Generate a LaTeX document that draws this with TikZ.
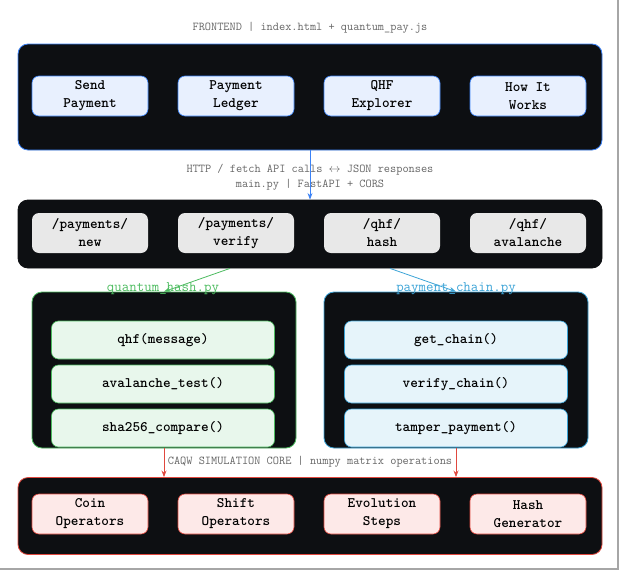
\documentclass[tikz,border=0pt]{standalone}
\usepackage{tikz}
\usetikzlibrary{shapes, arrows.meta}
\usetikzlibrary{positioning}
\definecolor{bgdark}{HTML}{0D0F12}
\definecolor{feblue}{HTML}{3B82F6}
\definecolor{fefill}{HTML}{E8F0FE}
\definecolor{apifill}{HTML}{E8E8E8}
\definecolor{qgreen}{HTML}{4CBB5F}
\definecolor{qfill}{HTML}{E8F7EC}
\definecolor{cblue}{HTML}{3BA3D6}
\definecolor{cfill}{HTML}{E6F4FA}
\definecolor{cred}{HTML}{E0483E}
\definecolor{rfill}{HTML}{FDE9E8}
\tikzstyle{layer} = [rectangle, rounded corners = 10, fill = bgdark,
  line width = 0.8pt, minimum width = 584, inner sep = 0]
\tikzstyle{item} = [
  rectangle, rounded corners = 7,
  minimum width = 116, minimum height = 40, line width = 0.6pt,
  text centered, align = center, inner sep = 1,
  font = \ttfamily\bfseries\fontsize{14.5}{18}\selectfont
]
\tikzstyle{fn} = [item, minimum width = 223, minimum height = 38]
\tikzstyle{caption} = [font = \ttfamily\fontsize{12}{14}\selectfont, text = black!60]
\tikzstyle{module} = [font = \ttfamily\fontsize{14.5}{16}\selectfont]
\begin{document}
\begin{tikzpicture}[x = 1pt, y = -1pt, node distance = 0]
      \useasboundingbox (0, 0) rectangle (621, 573);
      \draw [gray!70, line width = 1.5pt] (618, 0) -- (618, 569) -- (0, 569);
      % frontend
      \node [caption] (fe-title) at (310, 28) {FRONTEND | index.html + quantum\_pay.js};
      \node [layer, draw = feblue, minimum height = 106] (fe) at (310, 97) {};
      \node [item, draw = feblue, fill = fefill] (fe-send) at (90, 96) {Send\\Payment};
      \node [item, draw = feblue, fill = fefill] (fe-ledger) at (236, 96) {Payment\\Ledger};
      \node [item, draw = feblue, fill = fefill] (fe-qhf) at (382, 96) {QHF\\Explorer};
      \node [item, draw = feblue, fill = fefill] (fe-how) at (528, 96) {How It\\Works};
      % api
      \node [caption] (api-title-a) at (310, 170) {HTTP / fetch API calls $\leftrightarrow$ JSON responses};
      \node [caption] (api-title-b) at (310, 185) {main.py | FastAPI + CORS};
      \node [layer, draw = bgdark, minimum height = 68] (api) at (310, 234) {};
      \node [item, fill = apifill] (api-new) at (90, 233) {/payments/\\new};
      \node [item, fill = apifill] (api-verify) at (236, 233) {/payments/\\verify};
      \node [item, fill = apifill] (api-hash) at (382, 233) {/qhf/\\hash};
      \node [item, fill = apifill] (api-aval) at (528, 233) {/qhf/\\avalanche};
      % modules
      \node [layer, draw = qgreen, minimum width = 264, minimum height = 156] (qh) at (164, 370) {};
      \node [module, text = qgreen] (qh-title) at (163, 289) {quantum\_hash.py};
      \node [fn, draw = qgreen, fill = qfill] (qh-qhf) at (163, 340) {qhf(message)};
      \node [fn, draw = qgreen, fill = qfill] (qh-aval) at (163, 384) {avalanche\_test()};
      \node [fn, draw = qgreen, fill = qfill] (qh-sha) at (163, 428) {sha256\_compare()};
      \node [layer, draw = cblue, minimum width = 264, minimum height = 156] (pc) at (456, 370) {};
      \node [module, text = cblue] (pc-title) at (456, 289) {payment\_chain.py};
      \node [fn, draw = cblue, fill = cfill] (pc-get) at (456, 340) {get\_chain()};
      \node [fn, draw = cblue, fill = cfill] (pc-verify) at (456, 384) {verify\_chain()};
      \node [fn, draw = cblue, fill = cfill] (pc-tamper) at (456, 428) {tamper\_payment()};
      % core
      \node [caption] (core-title) at (310, 462) {CAQW SIMULATION CORE | numpy matrix operations};
      \node [layer, draw = cred, minimum height = 77] (core) at (310, 516) {};
      \node [item, draw = cred, fill = rfill] (core-coin) at (90, 514) {Coin\\Operators};
      \node [item, draw = cred, fill = rfill] (core-shift) at (236, 514) {Shift\\Operators};
      \node [item, draw = cred, fill = rfill] (core-evo) at (382, 514) {Evolution\\Steps};
      \node [item, draw = cred, fill = rfill] (core-hash) at (528, 514) {Hash\\Generator};

      \draw [-{Stealth}, feblue, thick] (fe.south) -- (api.north);
      \draw [-{Stealth}, qgreen, thick] (api.south -| api-verify) ++(-6, 0) -- (qh.north);
      \draw [-{Stealth}, cblue, thick] (api.south -| api-hash) ++(8, 0) -- (pc.north);
      \draw [-{Stealth}, cred, thick] (qh.south) -- (qh.south |- core.north);
      \draw [-{Stealth}, cred, thick] (pc.south) -- (pc.south |- core.north);
    \end{tikzpicture}
\end{document}
